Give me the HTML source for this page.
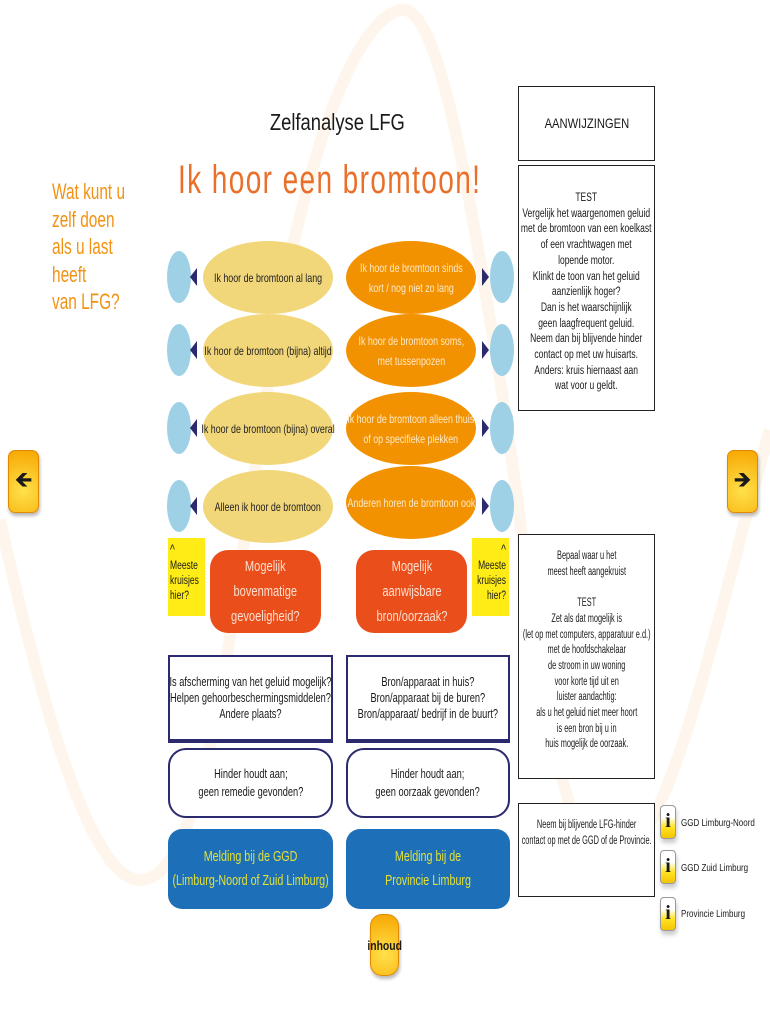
<!DOCTYPE html>
<html><head><meta charset="utf-8"><style>
*{margin:0;padding:0;box-sizing:border-box}
body{width:770px;height:1024px;background:#fff;position:relative;overflow:hidden;font-family:"Liberation Sans",sans-serif;color:#1a1a1a}
.a{position:absolute}
.c{display:flex;align-items:center;justify-content:center;text-align:center}
.n{display:inline-block;white-space:nowrap;transform:scaleX(.74);transform-origin:center}
.el{border-radius:50%;font-size:12px;line-height:20px}
.y{background:#f2d77a;color:#222}
.o{background:#f39200;color:#fde9c8}
.be{background:#9fd1e6;border-radius:50%;width:24px;height:52px}
.tl{width:0;height:0;border-top:9px solid transparent;border-bottom:9px solid transparent;border-right:7px solid #2b2a6e}
.tr{width:0;height:0;border-top:9px solid transparent;border-bottom:9px solid transparent;border-left:7px solid #2b2a6e}
.box{border:1.5px solid #222;background:#fff;font-size:11.5px;line-height:15.7px}
.top{display:flex;flex-direction:column;align-items:center;text-align:center}
.yb{background:#ffec16;font-size:11.5px;line-height:15px}
.yb .n{position:absolute;top:4px}
.red{background:#e94e1b;color:#fde0d0;border-radius:18px;font-size:15px;line-height:25px}
.wb{border:2px solid #2b2a6e;border-bottom-width:4px;background:#fff;font-size:12.5px;line-height:16px}
.wr{border:2.5px solid #2b2a6e;border-radius:18px;background:#fff;font-size:12.5px;line-height:18px}
.bl{background:#1d70b7;color:#e3e03a;border-radius:14px;font-size:14.5px;line-height:24px}
.btn{background:radial-gradient(circle at 50% 65%,#ffe14a,#f7a600);border:1.5px solid #e08a00;border-radius:7px;box-shadow:1px 3px 3px #bbb}
.info{width:16px;height:34px;background:linear-gradient(#fff 0%,#fff 35%,#ffe426 65%,#f5c400);border:1px solid #999;border-radius:4px;box-shadow:1px 4px 4px #ccc;font-weight:bold;font-family:"Liberation Serif",serif;font-size:20px;line-height:30px;text-align:center}
.il{font-size:10px;white-space:nowrap;transform:scaleX(.8);transform-origin:left}
</style></head><body>
<svg class="a" style="left:0;top:0" width="770" height="1024">
<path d="M0,520 C40,700 90,880 140,880 C220,880 240,500 290,260 C320,120 360,20 400,10 C440,0 470,200 500,380 C530,560 550,860 610,860 C670,860 720,600 770,430" fill="none" stroke="#fef6ec" stroke-width="12"/>
</svg>
<div class="a c" style="left:237px;top:106px;width:200px;height:32px;font-size:23px"><span class="n" style="transform:scaleX(.8)">Zelfanalyse LFG</span></div>
<div class="a c" style="left:150px;top:155px;width:360px;height:50px;font-size:40px;color:#e8702a"><span class="n" style="transform:scaleX(.7);letter-spacing:2px">Ik hoor een bromtoon!</span></div>
<div class="a" style="left:52px;top:178px;font-size:22px;line-height:27.5px;color:#f29213;white-space:nowrap;transform:scaleX(.7);transform-origin:left">Wat kunt u<br>zelf doen<br>als u last<br>heeft<br>van LFG?</div>

<div class="a box c" style="left:518px;top:86px;width:137px;height:75px;font-size:14px"><span class="n" style="transform:scaleX(.8)">AANWIJZINGEN</span></div>
<div class="a box top" style="left:518px;top:165px;width:137px;height:246px;padding-top:25px"><span class="n">TEST<br>Vergelijk het waargenomen geluid<br>met de bromtoon van een koelkast<br>of een vrachtwagen met<br>lopende motor.<br>Klinkt de toon van het geluid<br>aanzienlijk hoger?<br>Dan is het waarschijnlijk<br>geen laagfrequent geluid.<br>Neem dan bij blijvende hinder<br>contact op met uw huisarts.<br>Anders: kruis hiernaast aan<br>wat voor u geldt.</span></div>
<div class="a box top" style="left:518px;top:534px;width:137px;height:245px;padding-top:14px"><span class="n" style="transform:scaleX(.64)">Bepaal waar u het<br>meest heeft aangekruist<br><br>TEST<br>Zet als dat mogelijk is<br>(let op met computers, apparatuur e.d.)<br>met de hoofdschakelaar<br>de stroom in uw woning<br>voor korte tijd uit en<br>luister aandachtig:<br>als u het geluid niet meer hoort<br>is een bron bij u in<br>huis mogelijk de oorzaak.</span></div>
<div class="a box top" style="left:518px;top:803px;width:137px;height:94px;padding-top:14px"><span class="n" style="transform:scaleX(.64)">Neem bij blijvende LFG-hinder<br>contact op met de GGD of de Provincie.</span></div>

<div class="a be" style="left:167px;top:251px"></div><div class="a tl" style="left:190px;top:268px"></div>
<div class="a el y c" style="left:203px;top:241px;width:130px;height:73px"><span class="n">Ik hoor de bromtoon al lang</span></div>
<div class="a el o c" style="left:346px;top:241px;width:130px;height:73px"><span class="n">Ik hoor de bromtoon sinds<br>kort / nog niet zo lang</span></div>
<div class="a tr" style="left:482px;top:268px"></div><div class="a be" style="left:490px;top:251px"></div>

<div class="a be" style="left:167px;top:324px"></div><div class="a tl" style="left:190px;top:341px"></div>
<div class="a el y c" style="left:203px;top:314px;width:130px;height:73px"><span class="n">Ik hoor de bromtoon (bijna) altijd</span></div>
<div class="a el o c" style="left:346px;top:314px;width:130px;height:73px"><span class="n">Ik hoor de bromtoon soms,<br>met tussenpozen</span></div>
<div class="a tr" style="left:482px;top:341px"></div><div class="a be" style="left:490px;top:324px"></div>

<div class="a be" style="left:167px;top:402px"></div><div class="a tl" style="left:190px;top:419px"></div>
<div class="a el y c" style="left:203px;top:392px;width:130px;height:73px"><span class="n">Ik hoor de bromtoon (bijna) overal</span></div>
<div class="a el o c" style="left:346px;top:392px;width:130px;height:73px"><span class="n">Ik hoor de bromtoon alleen thuis<br>of op specifieke plekken</span></div>
<div class="a tr" style="left:482px;top:419px"></div><div class="a be" style="left:490px;top:402px"></div>

<div class="a be" style="left:167px;top:480px"></div><div class="a tl" style="left:190px;top:497px"></div>
<div class="a el y c" style="left:203px;top:470px;width:130px;height:73px"><span class="n">Alleen ik hoor de bromtoon</span></div>
<div class="a el o c" style="left:346px;top:466px;width:130px;height:73px"><span class="n">Anderen horen de bromtoon ook</span></div>
<div class="a tr" style="left:482px;top:497px"></div><div class="a be" style="left:490px;top:480px"></div>

<div class="a yb" style="left:168px;top:538px;width:37px;height:78px"><span class="n" style="left:2px;transform-origin:left"><span style="font-size:14px">^</span><br>Meeste<br>kruisjes<br>hier?</span></div>
<div class="a yb" style="left:472px;top:538px;width:37px;height:78px;text-align:right"><span class="n" style="right:3px;transform-origin:right"><span style="font-size:14px">^</span><br>Meeste<br>kruisjes<br>hier?</span></div>
<div class="a red c" style="left:210px;top:550px;width:111px;height:83px"><span class="n">Mogelijk<br>bovenmatige<br>gevoeligheid?</span></div>
<div class="a red c" style="left:356px;top:550px;width:111px;height:83px"><span class="n">Mogelijk<br>aanwijsbare<br>bron/oorzaak?</span></div>

<div class="a wb c" style="left:168px;top:655px;width:165px;height:88px"><span class="n">Is afscherming van het geluid mogelijk?<br>Helpen gehoorbeschermingsmiddelen?<br>Andere plaats?</span></div>
<div class="a wb c" style="left:346px;top:655px;width:164px;height:88px"><span class="n">Bron/apparaat in huis?<br>Bron/apparaat bij de buren?<br>Bron/apparaat/ bedrijf in de buurt?</span></div>
<div class="a wr c" style="left:168px;top:748px;width:165px;height:70px"><span class="n">Hinder houdt aan;<br>geen remedie gevonden?</span></div>
<div class="a wr c" style="left:346px;top:748px;width:164px;height:70px"><span class="n">Hinder houdt aan;<br>geen oorzaak gevonden?</span></div>
<div class="a bl c" style="left:168px;top:829px;width:165px;height:80px"><span class="n">Melding bij de GGD<br>(Limburg-Noord of Zuid Limburg)</span></div>
<div class="a bl c" style="left:346px;top:829px;width:164px;height:80px"><span class="n">Melding bij de<br>Provincie Limburg</span></div>

<div class="a btn c" style="left:8px;top:450px;width:31px;height:63px;font-size:22px">&#129144;</div>
<div class="a btn c" style="left:727px;top:450px;width:31px;height:63px;font-size:22px">&#129146;</div>
<div class="a btn c" style="left:370px;top:914px;width:29px;height:62px;font-size:13px;font-weight:bold;border-radius:12px"><span class="n" style="transform:scaleX(.8)">inhoud</span></div>

<div class="a info" style="left:660px;top:805px">i</div><div class="a il" style="left:681px;top:818px">GGD Limburg-Noord</div>
<div class="a info" style="left:660px;top:850px">i</div><div class="a il" style="left:681px;top:863px">GGD Zuid Limburg</div>
<div class="a info" style="left:660px;top:897px">i</div><div class="a il" style="left:681px;top:909px">Provincie Limburg</div>
</body></html>
